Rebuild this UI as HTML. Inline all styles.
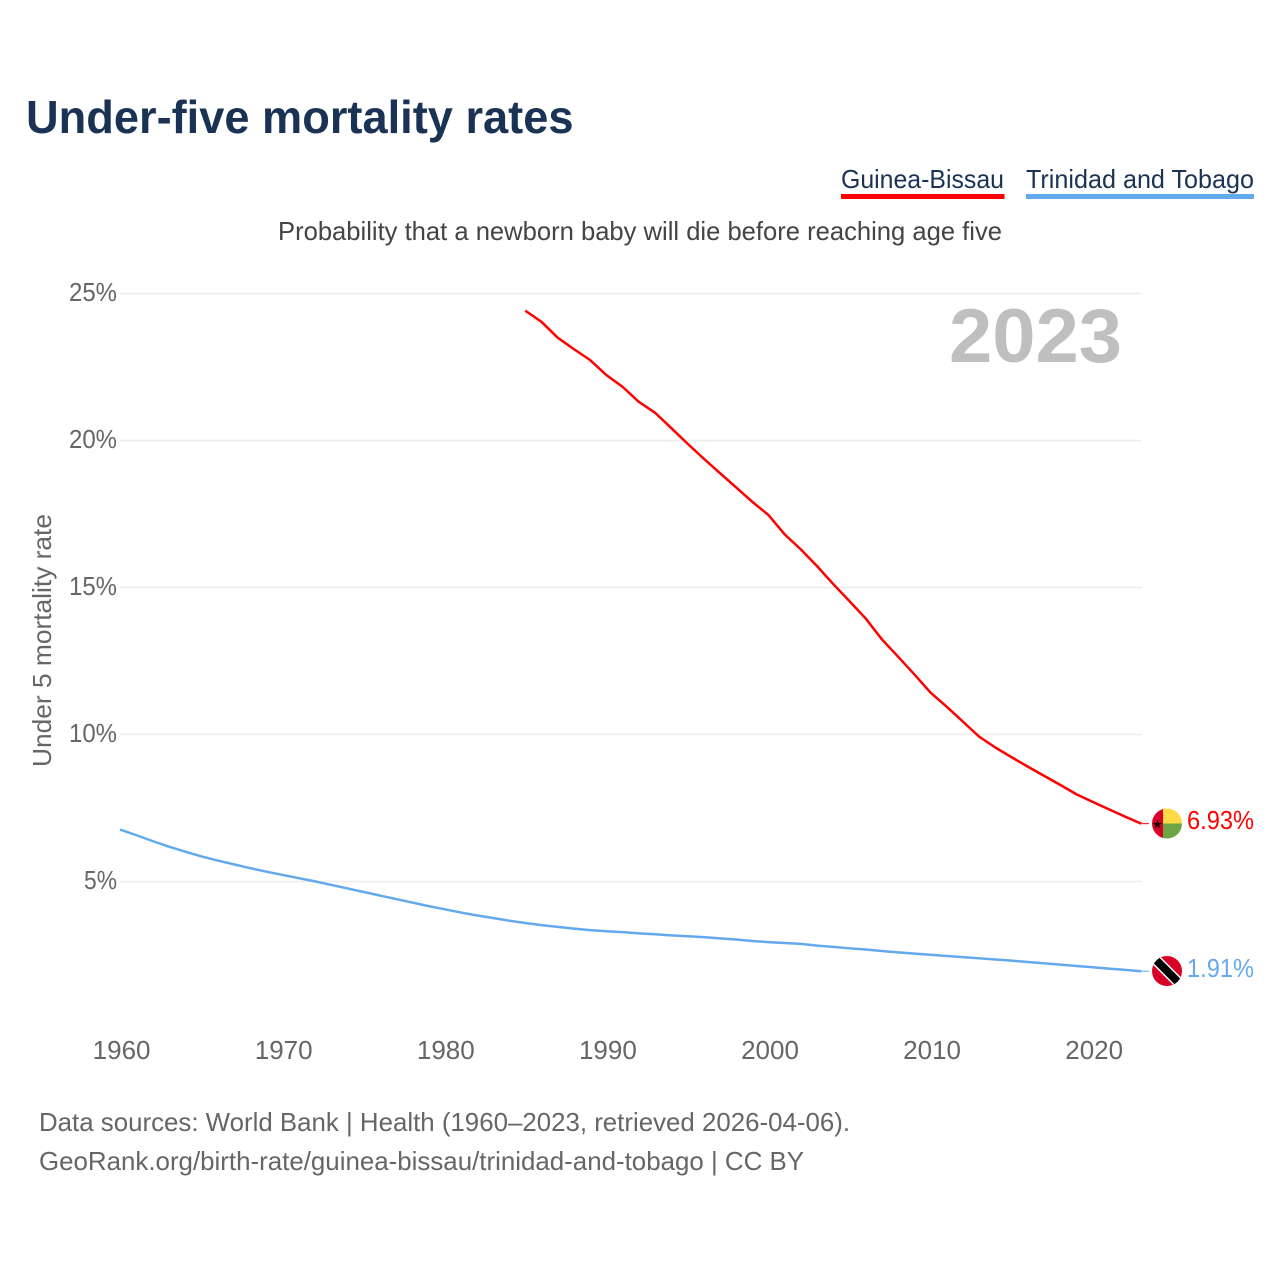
<!DOCTYPE html>
<html lang="en">
<head>
<meta charset="utf-8">
<title>Under-five mortality rates</title>
<style>
html,body{margin:0;padding:0;background:#fff;}
svg{display:block;font-family:"Liberation Sans",Arial,sans-serif;}
</style>
</head>
<body>
<svg id="chart" width="1280" height="1280" viewBox="0 0 1280 1280" xmlns="http://www.w3.org/2000/svg">
  <rect x="0" y="0" width="1280" height="1280" fill="#ffffff"/>
  <text x="26" y="133" font-size="46" font-weight="700" fill="#1a3354" textLength="547.5" lengthAdjust="spacingAndGlyphs">Under-five mortality rates</text>

  <g>
    <text x="841" y="188" font-size="26" fill="#1a3354" textLength="163" lengthAdjust="spacingAndGlyphs">Guinea-Bissau</text>
    <rect x="841" y="194" width="163.5" height="5" fill="#ff0000"/>
  </g>
  <g>
    <text x="1026" y="188" font-size="26" fill="#1a3354" textLength="228" lengthAdjust="spacingAndGlyphs">Trinidad and Tobago</text>
    <rect x="1026" y="194" width="228" height="5" fill="#63a9ee"/>
  </g>

  <text x="278" y="240" font-size="26" fill="#444444" textLength="724" lengthAdjust="spacingAndGlyphs">Probability that a newborn baby will die before reaching age five</text>

  <g id="grid"></g>
  <g id="yticks"></g>
  <g id="xticks"></g>

  <text x="0" y="0" transform="translate(51,767) rotate(-90)" font-size="26" fill="#666666" textLength="253" lengthAdjust="spacingAndGlyphs">Under 5 mortality rate</text>

  <text x="949" y="362" font-size="76" font-weight="700" fill="#bfbfbf" textLength="173" lengthAdjust="spacingAndGlyphs">2023</text>

  <g id="series"></g>

  <g>
    <clipPath id="clip-gw"><circle cx="1167" cy="823.5" r="15"/></clipPath>
    <g clip-path="url(#clip-gw)">
      <rect x="1152" y="808" width="11" height="31" fill="#d80027"/>
      <rect x="1163" y="808" width="19" height="15.5" fill="#ffda44"/>
      <rect x="1163" y="823.5" width="19" height="15.5" fill="#6da544"/>
      <polygon points="1157.5,819.8 1158.6,823 1162,823 1159.3,825 1160.3,828.2 1157.5,826.3 1154.7,828.2 1155.7,825 1153,823 1156.4,823" fill="#000000"/>
    </g>
  </g>
  <g>
    <clipPath id="clip-tt"><circle cx="1167" cy="971" r="15"/></clipPath>
    <g clip-path="url(#clip-tt)">
      <rect x="1152" y="956" width="30" height="30" fill="#d80027"/>
      <line x1="1152" y1="956" x2="1182" y2="986" stroke="#ffffff" stroke-width="11"/>
      <line x1="1152" y1="956" x2="1182" y2="986" stroke="#000000" stroke-width="8"/>
    </g>
  </g>

  <text x="1187" y="829" font-size="26" fill="#ff0000" textLength="67" lengthAdjust="spacingAndGlyphs">6.93%</text>
  <text x="1187" y="977" font-size="26" fill="#63a9ee" textLength="67" lengthAdjust="spacingAndGlyphs">1.91%</text>

  <text x="39" y="1131" font-size="26" fill="#666666" textLength="811" lengthAdjust="spacingAndGlyphs">Data sources: World Bank | Health (1960–2023, retrieved 2026-04-06).</text>
  <text x="39" y="1170" font-size="26" fill="#666666" textLength="765" lengthAdjust="spacingAndGlyphs">GeoRank.org/birth-rate/guinea-bissau/trinidad-and-tobago | CC BY</text>
</svg>
<script>
const years = [1960,1961,1962,1963,1964,1965,1966,1967,1968,1969,1970,1971,1972,1973,1974,1975,1976,1977,1978,1979,1980,1981,1982,1983,1984,1985,1986,1987,1988,1989,1990,1991,1992,1993,1994,1995,1996,1997,1998,1999,2000,2001,2002,2003,2004,2005,2006,2007,2008,2009,2010,2011,2012,2013,2014,2015,2016,2017,2018,2019,2020,2021,2022,2023];
const guineaBissau = [null,null,null,null,null,null,null,null,null,null,null,null,null,null,null,null,null,null,null,null,null,null,null,null,null,24.38,24.00,23.46,23.07,22.70,22.19,21.79,21.28,20.91,20.39,19.86,19.35,18.86,18.37,17.88,17.43,16.77,16.26,15.69,15.08,14.50,13.91,13.20,12.61,12.01,11.39,10.91,10.40,9.89,9.52,9.19,8.87,8.56,8.25,7.93,7.67,7.42,7.17,6.93];
const trinidadTobago = [6.73,6.54,6.34,6.15,5.98,5.82,5.68,5.55,5.42,5.30,5.19,5.08,4.97,4.85,4.73,4.61,4.49,4.37,4.25,4.13,4.02,3.91,3.81,3.72,3.63,3.55,3.48,3.42,3.36,3.31,3.27,3.24,3.20,3.17,3.13,3.10,3.07,3.03,2.99,2.94,2.90,2.87,2.84,2.78,2.74,2.69,2.65,2.60,2.55,2.51,2.47,2.43,2.39,2.35,2.31,2.27,2.225,2.18,2.135,2.09,2.045,2.00,1.955,1.91];
const yTicks = [5,10,15,20,25];
const xTicks = [1960,1970,1980,1990,2000,2010,2020];

const NS = 'http://www.w3.org/2000/svg';
function xScale(year){ return 120 + (year - 1960) * 16.21; }
function yScale(v){ return 1028.5 - v * 29.4; }
function seriesY(v){ return yScale(v) - 1.1; }

const gridG = document.getElementById('grid');
const yG = document.getElementById('yticks');
const xG = document.getElementById('xticks');
const seriesG = document.getElementById('series');

yTicks.forEach(function(t){
  const line = document.createElementNS(NS,'line');
  
  
  line.setAttribute('x1', 119.5);
  line.setAttribute('x2', 1141.5);
  line.setAttribute('y1', yScale(t));
  line.setAttribute('y2', yScale(t));
  line.setAttribute('stroke', '#ececec');
  line.setAttribute('stroke-width', '1.5');
  gridG.appendChild(line);

  const label = document.createElementNS(NS,'text');
  
  
  label.textContent = t + '%';
  const w = t < 10 ? 33 : 48;
  label.setAttribute('x', 117 - w);
  label.setAttribute('y', yScale(t) + 7.5);
  label.setAttribute('font-size', '26');
  label.setAttribute('fill', '#666666');
  label.setAttribute('textLength', w);
  label.setAttribute('lengthAdjust', 'spacingAndGlyphs');
  yG.appendChild(label);
});

xTicks.forEach(function(t){
  const label = document.createElementNS(NS,'text');
  
  
  label.textContent = String(t);
  label.setAttribute('x', xScale(t) + 1.6);
  label.setAttribute('y', 1059);
  label.setAttribute('font-size', '26');
  label.setAttribute('fill', '#666666');
  label.setAttribute('text-anchor', 'middle');
  xG.appendChild(label);
});

function linePath(values){
  let d = '';
  values.forEach(function(v,i){
    if (v === null) return;
    d += (d ? 'L' : 'M') + xScale(years[i]).toFixed(2) + ' ' + seriesY(v).toFixed(2);
  });
  return d;
}
function lastValue(values){ return values[values.length - 1]; }

const redPath = document.createElementNS(NS,'path');


redPath.setAttribute('d', linePath(guineaBissau));
redPath.setAttribute('fill', 'none');
redPath.setAttribute('stroke', '#ff0000');
redPath.setAttribute('stroke-width', '2.5');
redPath.setAttribute('stroke-linejoin', 'round');
seriesG.appendChild(redPath);

const bluePath = document.createElementNS(NS,'path');


bluePath.setAttribute('d', linePath(trinidadTobago));
bluePath.setAttribute('fill', 'none');
bluePath.setAttribute('stroke', '#63a9ee');
bluePath.setAttribute('stroke-width', '2.5');
bluePath.setAttribute('stroke-linejoin', 'round');
seriesG.appendChild(bluePath);

const redLead = document.createElementNS(NS,'line');


redLead.setAttribute('x1', xScale(2023));
redLead.setAttribute('x2', 1149);
redLead.setAttribute('y1', seriesY(lastValue(guineaBissau)));
redLead.setAttribute('y2', seriesY(lastValue(guineaBissau)));
redLead.setAttribute('stroke', '#ff0000');
redLead.setAttribute('stroke-width', '1');
seriesG.appendChild(redLead);

const blueLead = document.createElementNS(NS,'line');


blueLead.setAttribute('x1', xScale(2023));
blueLead.setAttribute('x2', 1149);
blueLead.setAttribute('y1', seriesY(lastValue(trinidadTobago)));
blueLead.setAttribute('y2', seriesY(lastValue(trinidadTobago)));
blueLead.setAttribute('stroke', '#63a9ee');
blueLead.setAttribute('stroke-width', '1');
seriesG.appendChild(blueLead);
</script>
</body>
</html>
